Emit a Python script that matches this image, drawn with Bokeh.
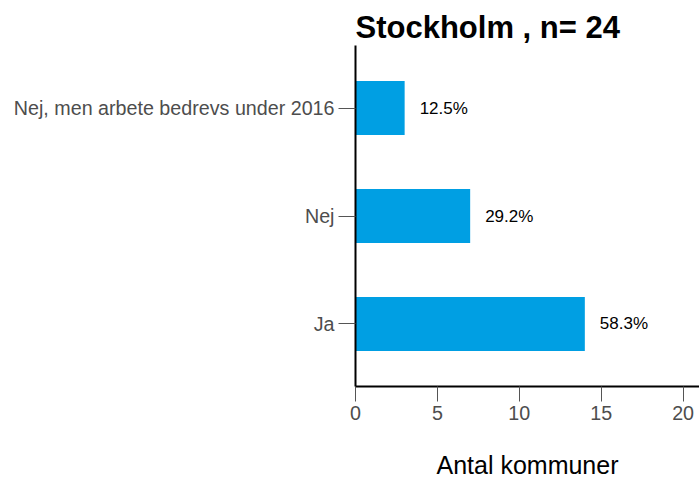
from bokeh.plotting import figure
from bokeh.models import ColumnDataSource, FactorRange, Range1d, FixedTicker
from bokeh.core.properties import value
from bokeh.embed import file_html
from bokeh.resources import INLINE

categories = ["Ja", "Nej", "Nej, men arbete bedrevs under 2016"]
counts = [14, 7, 3]
pct_labels = ["58.3%", "29.2%", "12.5%"]
x_ticks = [0, 5, 10, 15, 20]
title_text = "Stockholm , n= 24"
x_label = "Antal kommuner"

FONT = "Liberation Sans"

src = ColumnDataSource(dict(cat=categories, n=counts, lab=pct_labels))

p = figure(
    width=699, height=481,
    y_range=FactorRange(*categories, range_padding=0.08, range_padding_units="absolute"),
    x_range=Range1d(0, 21),
    output_backend="svg", toolbar_location=None,
    min_border_left=355, min_border_right=0, min_border_top=45, min_border_bottom=95,
)

p.hbar(y="cat", right="n", left=0, height=0.5, source=src,
       fill_color="#009fe3", line_color=None)

p.text(x="n", y="cat", text="lab", source=src, x_offset=15,
       text_baseline="middle", text_align="left",
       text_font=value(FONT), text_font_size="17px", text_color="#000000")

p.title.text = title_text
p.title.text_font = FONT
p.title.text_font_size = "31px"
p.title.text_font_style = "bold"
p.title.text_color = "#000000"
p.title.align = "left"
p.title.offset = 0
p.title.standoff = 2

p.outline_line_color = None
p.xgrid.grid_line_color = None
p.ygrid.grid_line_color = None

for ax in (p.xaxis[0], p.yaxis[0]):
    ax.axis_line_color = "#000000"
    ax.axis_line_width = 2
    ax.major_tick_line_color = "#555555"
    ax.major_tick_line_width = 1
    ax.major_tick_out = 15
    ax.major_tick_in = 0
    ax.minor_tick_line_color = None
    ax.major_label_text_font = FONT
    ax.major_label_text_font_size = "19.7px"
    ax.major_label_text_color = "#4d4d4d"
    ax.major_label_standoff = 4

p.yaxis.major_tick_out = 17

p.xaxis.ticker = FixedTicker(ticks=x_ticks)
p.xaxis.axis_label = x_label
p.xaxis.axis_label_text_font = FONT
p.xaxis.axis_label_text_font_size = "25px"
p.xaxis.axis_label_text_font_style = "normal"
p.xaxis.axis_label_text_color = "#000000"
p.xaxis.axis_label_standoff = 28

open("out.html", "w").write(file_html(p, INLINE))
